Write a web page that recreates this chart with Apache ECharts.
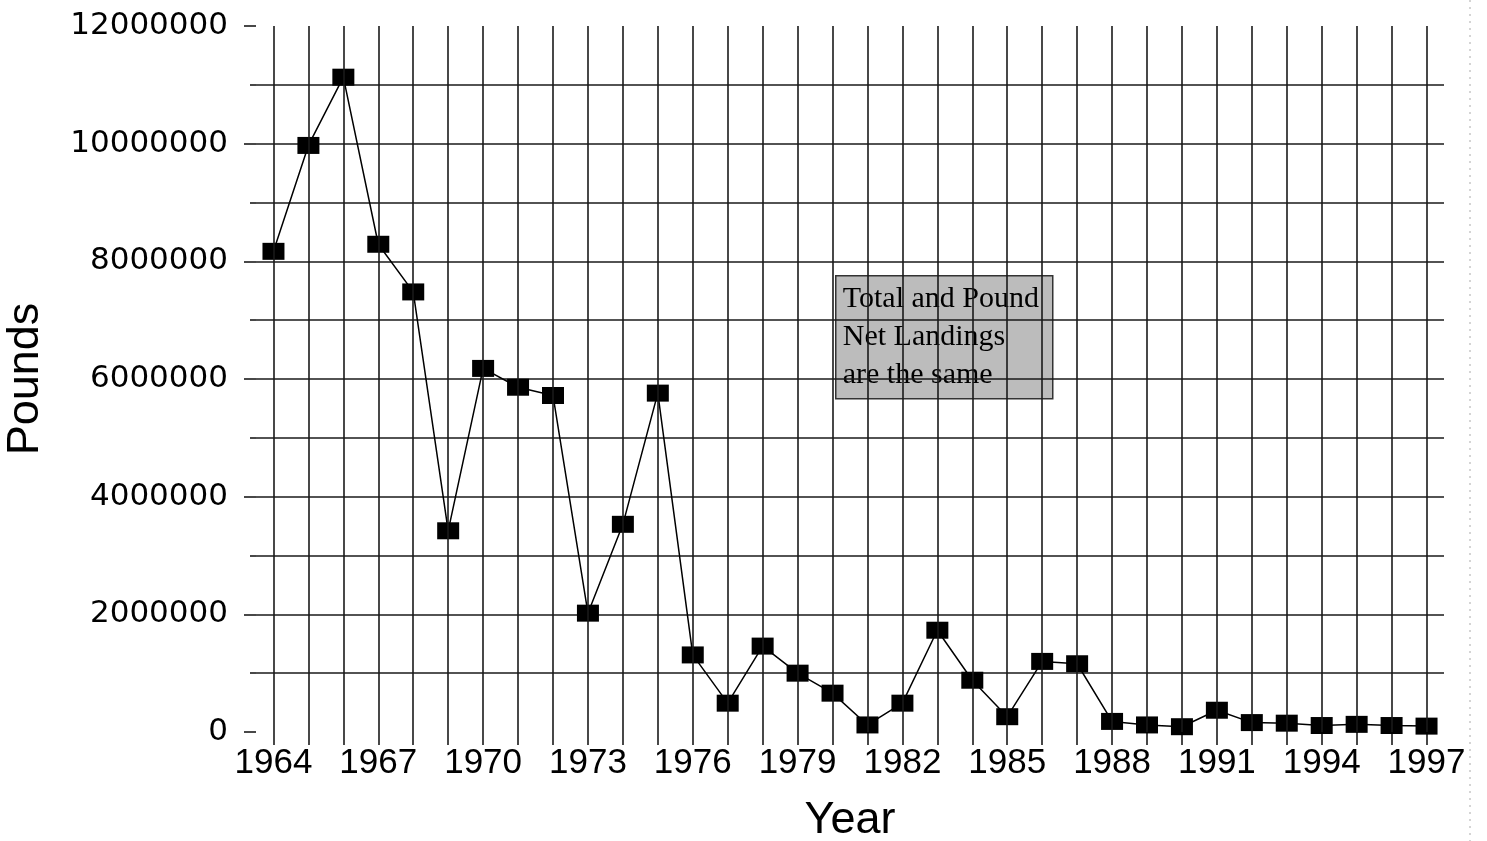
<!DOCTYPE html>
<html>
<head>
<meta charset="utf-8">
<title>Pounds by Year</title>
<script src="https://cdn.jsdelivr.net/npm/echarts@6/dist/echarts.min.js"></script>
<style>
  html, body { margin: 0; padding: 0; background: #fff; }
  #main { width: 1487px; height: 841px; }
</style>
</head>
<body>
<div id="main"></div>
<script>
// data
const years = ['1964', '1965', '1966', '1967', '1968', '1969', '1970', '1971', '1972', '1973',
  '1974', '1975', '1976', '1977', '1978', '1979', '1980', '1981', '1982', '1983',
  '1984', '1985', '1986', '1987', '1988', '1989', '1990', '1991', '1992', '1993',
  '1994', '1995', '1996', '1997']
const pounds = [8170000, 9970000, 11130000, 8290000, 7480000, 3420000, 6180000, 5860000, 5720000, 2020000,
  3530000, 5760000, 1310000, 490000, 1460000, 1000000, 660000, 120000, 490000, 1730000,
  880000, 260000, 1200000, 1160000, 180000, 120000, 90000, 370000, 160000, 150000,
  110000, 130000, 110000, 100000]
const noteLines = ['Total and Pound', 'Net Landings', 'are the same']

const gridColor = '#1a1a1a'
const myChart = echarts.init(document.getElementById('main'))

const option = {
  animation: false,
  backgroundColor: '#fff',
  grid: { left: 256, right: 43, top: 26, bottom: 109, outerBoundsMode: 'none', containLabel: false },
  xAxis: {
    type: 'category',
    data: years,
    boundaryGap: true,
    name: 'Year',
    nameLocation: 'middle',
    nameGap: 66,
    nameTextStyle: { fontFamily: 'Liberation Sans', fontSize: 45, color: '#000' },
    axisLine: { show: false },
    axisTick: { show: true, alignWithLabel: true, interval: 0, length: 13, lineStyle: { color: gridColor, width: 1.6 } },
    axisLabel: { interval: 2, margin: 14, fontFamily: 'Liberation Sans', fontSize: 35, color: '#000' },
    splitLine: { show: false }
  },
  yAxis: {
    type: 'value',
    min: 0,
    max: 12000000,
    interval: 2000000,
    name: 'Pounds',
    nameLocation: 'middle',
    nameRotate: 90,
    nameGap: 208,
    nameTextStyle: { fontFamily: 'Liberation Sans', fontSize: 45, color: '#000' },
    axisLine: { show: false },
    axisTick: { show: true, length: 12, lineStyle: { color: gridColor, width: 1.6 } },
    minorTick: { show: true, splitNumber: 2, length: 6, lineStyle: { color: gridColor, width: 1.6 } },
    axisLabel: {
      margin: 28,
      fontFamily: 'DejaVu Sans',
      fontSize: 31,
      color: '#000',
      formatter: (value) => String(value)
    },
    splitLine: { show: true, showMinLine: false, showMaxLine: false, lineStyle: { color: gridColor, width: 1.6 } },
    minorSplitLine: { show: true, lineStyle: { color: gridColor, width: 1.6 } }
  },
  graphic: [
    {
      type: 'group',
      left: 835,
      top: 275,
      children: [
        {
          type: 'rect',
          shape: { x: 0, y: 0, width: 217, height: 123 },
          style: { fill: '#bcbcbc', stroke: '#333', lineWidth: 1.5 }
        },
        {
          type: 'text',
          x: 7,
          y: 4,
          style: {
            text: noteLines.join('\n'),
            font: '30px "Liberation Serif"',
            lineHeight: 38,
            fill: '#000'
          }
        }
      ]
    },
    {
      type: 'line',
      shape: { x1: 1470, y1: 0, x2: 1470, y2: 841 },
      style: { stroke: '#aaa', lineWidth: 1, lineDash: [2, 5] }
    }
  ],
  series: [
    {
      name: 'Pounds',
      type: 'line',
      data: pounds,
      symbol: 'rect',
      symbolSize: [22, 17],
      itemStyle: { color: '#000' },
      lineStyle: { color: '#000', width: 1.5 },
      markLine: {
        silent: true,
        symbol: ['none', 'none'],
        label: { show: false },
        lineStyle: { type: 'solid', color: gridColor, width: 1.6 },
        data: years.map(y => ({ xAxis: y }))
      }
    }
  ]
}

myChart.setOption(option)
</script>
</body>
</html>
